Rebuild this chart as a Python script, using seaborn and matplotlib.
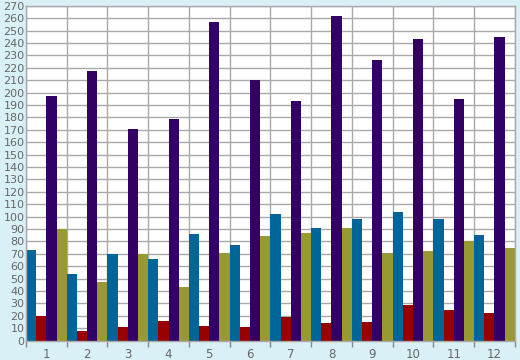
import matplotlib
matplotlib.use("Agg")
import matplotlib.pyplot as plt
import seaborn as sns
import pandas as pd
from matplotlib.ticker import FixedLocator, MultipleLocator

# data
groups = [str(i) for i in range(1, 13)]
series_names = ["A", "B", "C", "D"]
blue = [73, 54, 70, 66, 86, 77, 102, 91, 98, 104, 98, 85]
red = [20, 8, 11, 16, 12, 11, 19, 14, 15, 29, 25, 22]
purple = [197, 217, 171, 179, 257, 210, 193, 262, 226, 243, 195, 245]
olive = [90, 47, 70, 43, 71, 84, 87, 91, 71, 72, 80, 75]

palette = ["#006699", "#990000", "#330066", "#999933"]

rows = []
for name, vals in zip(series_names, [blue, red, purple, olive]):
    for g, v in zip(groups, vals):
        rows.append({"group": g, "series": name, "value": v})
df = pd.DataFrame(rows)

sns.set_style("white")
fig = plt.figure(figsize=(5.2, 3.6), dpi=100)
fig.patch.set_facecolor("#DAF0F7")
ax = fig.add_axes([0.05, 0.0536, 0.94, 0.9306])
ax.set_facecolor("white")

sns.barplot(data=df, x="group", y="value", hue="series", palette=palette,
            width=1.0, saturation=1, legend=False, ax=ax, linewidth=0)

ax.set_xlim(-0.5, 11.5)
ax.set_ylim(0, 270)
ax.yaxis.set_major_locator(MultipleLocator(10))
ax.xaxis.set_minor_locator(FixedLocator([i - 0.5 for i in range(13)]))

ax.grid(True, axis="y", which="major", color="#A9A9A9", linewidth=1)
ax.grid(True, axis="x", which="minor", color="#A9A9A9", linewidth=1)
ax.grid(False, axis="x", which="major")
ax.set_axisbelow(True)

ax.tick_params(axis="x", which="major", bottom=False, length=0, labelsize=8.5,
               labelcolor="#666666", pad=5)
ax.tick_params(axis="x", which="minor", bottom=True, length=4, width=1,
               color="#888888", direction="out")
ax.tick_params(axis="y", length=0, labelsize=8, labelcolor="#666666", pad=1)

for s in ax.spines.values():
    s.set_color("#A9A9A9")
    s.set_linewidth(1)

ax.set_xlabel("")
ax.set_ylabel("")

fig.savefig("out.png", dpi=100)
